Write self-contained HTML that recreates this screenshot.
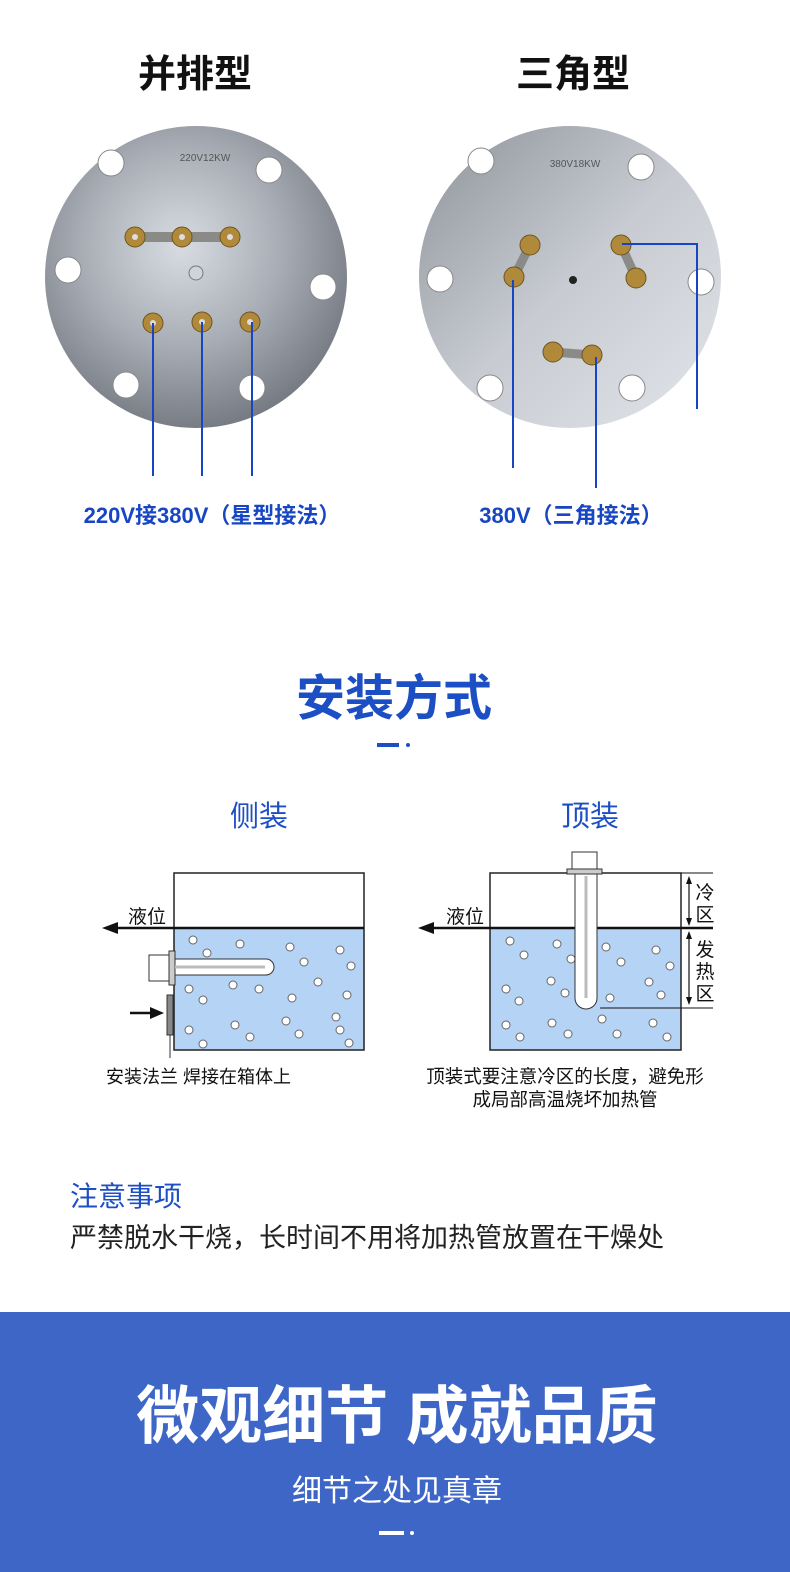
<!DOCTYPE html>
<html><head><meta charset="utf-8"><style>
html,body{margin:0;padding:0;background:#fff;}
svg{display:block;}
text{font-family:"Liberation Sans","Noto Sans CJK SC",sans-serif;}
</style></head><body>
<svg width="790" height="1572" viewBox="0 0 790 1572" xmlns="http://www.w3.org/2000/svg">
<defs>
<radialGradient id="metal" cx="45%" cy="40%" r="65%">
<stop offset="0" stop-color="#d8dce2"/><stop offset="0.5" stop-color="#a9aeb6"/><stop offset="1" stop-color="#6f747c"/>
</radialGradient>
<linearGradient id="metal2" x1="0" y1="0" x2="1" y2="1">
<stop offset="0" stop-color="#8d9299"/><stop offset="0.5" stop-color="#c7cbd1"/><stop offset="1" stop-color="#e2e5ea"/>
</linearGradient>
</defs>
<rect width="790" height="1572" fill="#fff"/>
<text x="195" y="87" font-size="38" font-weight="bold" text-anchor="middle" fill="#111">并排型</text>
<text x="573" y="87" font-size="38" font-weight="bold" text-anchor="middle" fill="#111">三角型</text>

<!-- left flange -->
<circle cx="196" cy="277" r="151" fill="url(#metal)"/>
<g fill="#fff" stroke="#888" stroke-width="1">
<circle cx="111" cy="163" r="13"/><circle cx="269" cy="170" r="13"/><circle cx="68" cy="270" r="13"/><circle cx="323" cy="287" r="13"/><circle cx="126" cy="385" r="13"/><circle cx="252" cy="388" r="13"/>
</g>
<circle cx="196" cy="273" r="7" fill="#cfd4da" stroke="#777"/>
<text x="205" y="161" font-size="10" fill="#555" text-anchor="middle">220V12KW</text>
<rect x="130" y="232" width="105" height="10" fill="#8a8a86"/>
<g fill="#b08a3a" stroke="#6d5520">
<circle cx="135" cy="237" r="10"/><circle cx="182" cy="237" r="10"/><circle cx="230" cy="237" r="10"/>
<circle cx="153" cy="323" r="10"/><circle cx="202" cy="322" r="10"/><circle cx="250" cy="322" r="10"/>
</g>
<g fill="#ddd"><circle cx="135" cy="237" r="3"/><circle cx="182" cy="237" r="3"/><circle cx="230" cy="237" r="3"/><circle cx="153" cy="323" r="3"/><circle cx="202" cy="322" r="3"/><circle cx="250" cy="322" r="3"/></g>
<g stroke="#1746c2" stroke-width="2" fill="none">
<line x1="153" y1="323" x2="153" y2="476"/><line x1="202" y1="322" x2="202" y2="476"/><line x1="252" y1="322" x2="252" y2="476"/>
</g>

<!-- right flange -->
<circle cx="570" cy="277" r="151" fill="url(#metal2)"/>
<g fill="#fff" stroke="#888" stroke-width="1">
<circle cx="481" cy="161" r="13"/><circle cx="641" cy="167" r="13"/><circle cx="440" cy="279" r="13"/><circle cx="701" cy="282" r="13"/><circle cx="490" cy="388" r="13"/><circle cx="632" cy="388" r="13"/>
</g>
<circle cx="573" cy="280" r="4" fill="#222"/>
<text x="575" y="167" font-size="10" fill="#555" text-anchor="middle">380V18KW</text>
<g stroke="#8a8a86" stroke-width="9"><line x1="530" y1="245" x2="514" y2="277"/><line x1="621" y1="245" x2="636" y2="278"/><line x1="553" y1="352" x2="592" y2="355"/></g>
<g fill="#b08a3a" stroke="#6d5520">
<circle cx="530" cy="245" r="10"/><circle cx="514" cy="277" r="10"/><circle cx="621" cy="245" r="10"/><circle cx="636" cy="278" r="10"/><circle cx="553" cy="352" r="10"/><circle cx="592" cy="355" r="10"/>
</g>
<g stroke="#1746c2" stroke-width="2" fill="none">
<line x1="513" y1="280" x2="513" y2="468"/><line x1="596" y1="357" x2="596" y2="488"/><polyline points="622,244 697,244 697,409"/>
</g>
<text x="212" y="523" font-size="22" font-weight="bold" text-anchor="middle" fill="#1746c2">220V接380V（星型接法）</text>
<text x="571" y="523" font-size="22" font-weight="bold" text-anchor="middle" fill="#1746c2">380V（三角接法）</text>

<text x="394" y="715" font-size="49" font-weight="bold" text-anchor="middle" fill="#1c4ec4">安装方式</text>
<rect x="377" y="743" width="22" height="4" fill="#1c4ec4"/><circle cx="408" cy="745" r="2" fill="#1c4ec4"/>

<text x="259" y="826" font-size="29" text-anchor="middle" fill="#1c4ec4">侧装</text>
<text x="590" y="826" font-size="29" text-anchor="middle" fill="#1c4ec4">顶装</text>

<!-- left diagram -->
<rect x="174" y="927" width="190" height="123" fill="#b5d3f5"/>
<rect x="174" y="873" width="190" height="177" fill="none" stroke="#222" stroke-width="1.5"/>
<line x1="110" y1="928" x2="364" y2="928" stroke="#111" stroke-width="2.5"/>
<polygon points="102,928 118,922 118,934" fill="#111"/>
<text x="128" y="923" font-size="19" fill="#111">液位</text>
<g fill="#fff" stroke="#666" stroke-width="1">
<circle cx="193" cy="940" r="4"/><circle cx="240" cy="944" r="4"/><circle cx="290" cy="947" r="4"/><circle cx="340" cy="950" r="4"/><circle cx="207" cy="953" r="4"/><circle cx="304" cy="962" r="4"/><circle cx="351" cy="966" r="4"/>
<circle cx="318" cy="982" r="4"/><circle cx="189" cy="989" r="4"/><circle cx="233" cy="985" r="4"/><circle cx="259" cy="989" r="4"/><circle cx="347" cy="995" r="4"/><circle cx="203" cy="1000" r="4"/><circle cx="292" cy="998" r="4"/><circle cx="336" cy="1017" r="4"/>
<circle cx="189" cy="1030" r="4"/><circle cx="235" cy="1025" r="4"/><circle cx="286" cy="1021" r="4"/><circle cx="340" cy="1030" r="4"/><circle cx="203" cy="1044" r="4"/><circle cx="250" cy="1037" r="4"/><circle cx="299" cy="1034" r="4"/><circle cx="349" cy="1043" r="4"/>
</g>
<rect x="149" y="955" width="20" height="26" fill="#fff" stroke="#333"/>
<rect x="169" y="951" width="6" height="34" fill="#ccc" stroke="#333"/>
<path d="M175 959 H266 A8 8 0 0 1 266 975 H175 Z" fill="#fff" stroke="#333"/>
<line x1="175" y1="967" x2="265" y2="967" stroke="#bbb" stroke-width="3"/>
<rect x="167" y="995" width="6" height="40" fill="#888" stroke="#333"/>
<line x1="170" y1="1035" x2="170" y2="1058" stroke="#333"/>
<line x1="130" y1="1013" x2="152" y2="1013" stroke="#111" stroke-width="2.5"/>
<polygon points="164,1013 150,1007 150,1019" fill="#111"/>
<text x="106" y="1083" font-size="18" fill="#111">安装法兰 焊接在箱体上</text>

<!-- right diagram -->
<rect x="490" y="927" width="191" height="123" fill="#b5d3f5"/>
<rect x="490" y="873" width="191" height="177" fill="none" stroke="#222" stroke-width="1.5"/>
<line x1="426" y1="928" x2="713" y2="928" stroke="#111" stroke-width="2.5"/>
<polygon points="418,928 434,922 434,934" fill="#111"/>
<text x="446" y="923" font-size="19" fill="#111">液位</text>
<line x1="681" y1="873" x2="713" y2="873" stroke="#111"/>
<line x1="600" y1="1008" x2="713" y2="1008" stroke="#111"/>
<g fill="#fff" stroke="#666" stroke-width="1">
<circle cx="510" cy="941" r="4"/><circle cx="557" cy="944" r="4"/><circle cx="606" cy="947" r="4"/><circle cx="656" cy="950" r="4"/><circle cx="524" cy="955" r="4"/><circle cx="571" cy="959" r="4"/><circle cx="621" cy="962" r="4"/><circle cx="670" cy="966" r="4"/>
<circle cx="551" cy="981" r="4"/><circle cx="649" cy="982" r="4"/><circle cx="506" cy="989" r="4"/><circle cx="565" cy="993" r="4"/><circle cx="661" cy="995" r="4"/><circle cx="519" cy="1001" r="4"/><circle cx="610" cy="998" r="4"/>
<circle cx="506" cy="1025" r="4"/><circle cx="552" cy="1023" r="4"/><circle cx="602" cy="1019" r="4"/><circle cx="653" cy="1023" r="4"/><circle cx="520" cy="1037" r="4"/><circle cx="568" cy="1034" r="4"/><circle cx="617" cy="1034" r="4"/><circle cx="667" cy="1037" r="4"/>
</g>
<rect x="572" y="852" width="25" height="17" fill="#fff" stroke="#333"/>
<rect x="567" y="869" width="35" height="5" fill="#ccc" stroke="#333"/>
<path d="M575 874 V998 A11 11 0 0 0 597 998 V874 Z" fill="#fff" stroke="#333"/>
<line x1="586" y1="876" x2="586" y2="998" stroke="#bbb" stroke-width="3"/>
<g stroke="#111" stroke-width="1.2">
<line x1="689" y1="878" x2="689" y2="924"/><line x1="689" y1="933" x2="689" y2="1003"/>
</g>
<g fill="#111">
<polygon points="689,876 686,884 692,884"/><polygon points="689,926 686,918 692,918"/>
<polygon points="689,931 686,939 692,939"/><polygon points="689,1005 686,997 692,997"/>
</g>
<text x="705" y="899" font-size="19" text-anchor="middle" fill="#111">冷</text>
<text x="705" y="921" font-size="19" text-anchor="middle" fill="#111">区</text>
<text x="705" y="956" font-size="19" text-anchor="middle" fill="#111">发</text>
<text x="705" y="978" font-size="19" text-anchor="middle" fill="#111">热</text>
<text x="705" y="1000" font-size="19" text-anchor="middle" fill="#111">区</text>
<text x="565" y="1083" font-size="18.5" text-anchor="middle" fill="#111">顶装式要注意冷区的长度，避免形</text>
<text x="565" y="1106" font-size="18.5" text-anchor="middle" fill="#111">成局部高温烧坏加热管</text>

<text x="70" y="1206" font-size="28" fill="#1c4ec4">注意事项</text>
<text x="70" y="1247" font-size="27" fill="#222">严禁脱水干烧，长时间不用将加热管放置在干燥处</text>

<rect x="0" y="1312" width="790" height="260" fill="#3d66c7"/>
<text x="397" y="1438" font-size="63" font-weight="bold" text-anchor="middle" fill="#fff">微观细节  成就品质</text>
<text x="397" y="1501" font-size="30" text-anchor="middle" fill="#fff">细节之处见真章</text>
<rect x="379" y="1531" width="25" height="4" fill="#fff"/><circle cx="412" cy="1533" r="2" fill="#fff"/>
</svg>
</body></html>
